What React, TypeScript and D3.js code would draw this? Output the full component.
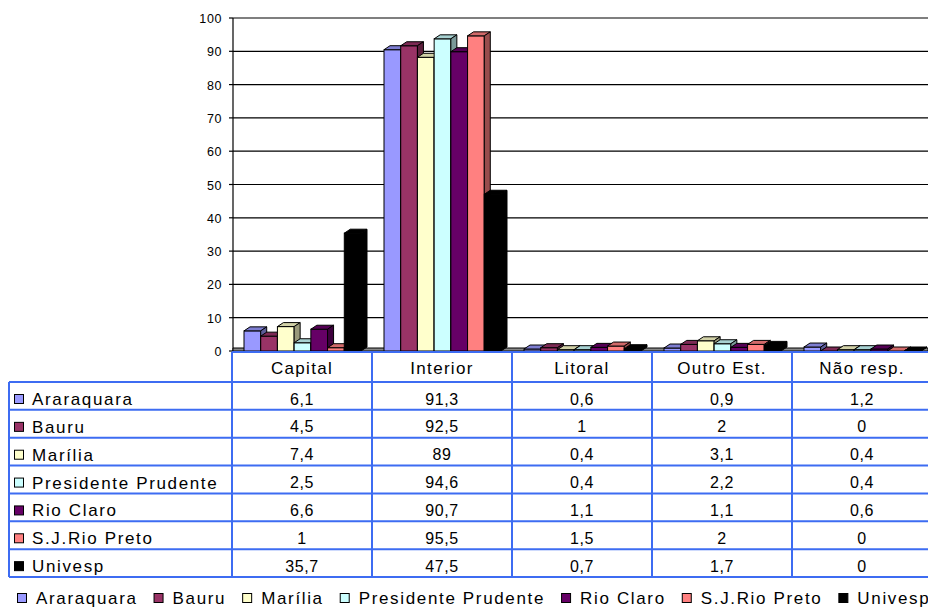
import React from "react";
import * as d3 from "d3";

const categories = ["Capital", "Interior", "Litoral", "Outro Est.", "Não resp."];
const series = ["Araraquara", "Bauru", "Marília", "Presidente Prudente", "Rio Claro", "S.J.Rio Preto", "Univesp"];
const araraquara = [6.1, 91.3, 0.6, 0.9, 1.2];
const bauru = [4.5, 92.5, 1, 2, 0];
const marilia = [7.4, 89, 0.4, 3.1, 0.4];
const presPrudente = [2.5, 94.6, 0.4, 2.2, 0.4];
const rioClaro = [6.6, 90.7, 1.1, 1.1, 0.6];
const sjRioPreto = [1, 95.5, 1.5, 2, 0];
const univesp = [35.7, 47.5, 0.7, 1.7, 0];
const seriesValues = [araraquara, bauru, marilia, presPrudente, rioClaro, sjRioPreto, univesp];
const colors = ["#9999FF", "#993366", "#FFFFCC", "#CCFFFF", "#660066", "#FF8080", "#000000"];
const yTicks = [0, 10, 20, 30, 40, 50, 60, 70, 80, 90, 100];

const W = 928, H = 607;
const FONT = "'Liberation Sans', Arial, sans-serif";
const BORDER = "#3d6cf2";

const fmt = (v: number) => String(v).replace(".", ",");

function textWidth(s: string, size: number, ls: number) {
  const c = document.createElement("canvas").getContext("2d");
  if (!c) return s.length * size * 0.55 + s.length * ls;
  c.font = `${size}px ${FONT}`;
  return c.measureText(s).width + s.length * ls;
}

export default function App() {
  const plotLeft = 232, plotRight = 932;
  const x = d3.scaleBand<string>().domain(categories).range([plotLeft, plotRight]).padding(0);
  const xs = d3.scaleBand<string>().domain(series).range([12, 129]).padding(0);
  const yFront = d3.scaleLinear().domain([0, 100]).range([351, 21]);
  const yGrid = d3.scaleLinear().domain([0, 100]).range([351, 18]);
  const dx = 6, dy = 4;
  const base = yFront(0);

  const tableTop = 352, headerH = 30;
  const rows = d3.scaleBand<string>().domain(series).range([tableTop + headerH, 577]).padding(0);
  const tableLeft = 9;

  const labSize = 17, labLs = 1.65;
  // legend layout
  let lx = 17;
  const legendItems = series.map((s, i) => {
    const item = { s, i, x: lx };
    lx += 19 + textWidth(s, labSize, labLs) + 16;
    return item;
  });

  const shade = (c: string, k: number) => {
    const col = d3.rgb(c);
    return d3.rgb(col.r * k, col.g * k, col.b * k).toString();
  };

  return (
    <svg width={W} height={H} style={{ position: "absolute", left: 0, top: 0, background: "#fff" }} fontFamily={FONT}>
      {/* gridlines */}
      {yTicks.map((t) => (
        <g key={"g" + t}>
          <line x1={plotLeft + 1} x2={W} y1={yGrid(t)} y2={yGrid(t)} stroke="#000" strokeWidth={1.2} />
          <line x1={plotLeft - 3} x2={plotLeft + 1} y1={yGrid(t)} y2={yGrid(t)} stroke="#000" strokeWidth={1.2} />
          <text x={222} y={yGrid(t) + 5} textAnchor="end" fontSize={12.5} letterSpacing={0.6} fill="#000">{t}</text>
        </g>
      ))}
      <line x1={plotLeft + 1} x2={plotLeft + 1} y1={yGrid(100)} y2={base} stroke="#000" strokeWidth={1.2} />
      {/* floor */}
      <polygon
        points={`${plotLeft + 1},${base} ${W},${base} ${W},${base - 3} ${plotLeft + 1},${base - 3}`}
        fill="#888" stroke="#000" strokeWidth={1}
      />
      {/* bars */}
      {categories.map((c, ci) => (
        <g key={"c" + c}>
          {series.map((s, si) => {
            const v = seriesValues[si][ci];
            const x0 = (x(c) as number) + (xs(s) as number);
            const w = xs.bandwidth();
            const yt = yFront(v);
            const col = colors[si];
            return (
              <g key={s}>
                <rect x={x0} y={yt} width={w} height={base - yt} fill={col} stroke="#000" strokeWidth={1} />
                <polygon
                  points={`${x0},${yt} ${x0 + dx},${yt - dy} ${x0 + w + dx},${yt - dy} ${x0 + w},${yt}`}
                  fill={shade(col, 0.82)} stroke="#000" strokeWidth={1} strokeLinejoin="round"
                />
                <polygon
                  points={`${x0 + w},${yt} ${x0 + w + dx},${yt - dy} ${x0 + w + dx},${base - dy} ${x0 + w},${base}`}
                  fill={shade(col, 0.6)} stroke="#000" strokeWidth={1} strokeLinejoin="round"
                />
              </g>
            );
          })}
        </g>
      ))}
      {/* table */}
      <g>
        <line x1={plotLeft} x2={W} y1={tableTop} y2={tableTop} stroke={BORDER} strokeWidth={2} />
        {categories.map((c) => (
          <g key={"h" + c}>
            <line x1={x(c)} x2={x(c)} y1={tableTop} y2={577} stroke={BORDER} strokeWidth={2} />
            <text x={(x(c) as number) + x.bandwidth() / 2} y={tableTop + 22} textAnchor="middle" fontSize={labSize} letterSpacing={1.3} fill="#000">{c}</text>
          </g>
        ))}
        <line x1={tableLeft} x2={tableLeft} y1={rows(series[0])} y2={577} stroke={BORDER} strokeWidth={2} />
        {series.map((s, si) => {
          const ry = rows(s) as number;
          return (
            <g key={"r" + s}>
              <line x1={tableLeft} x2={W} y1={ry} y2={ry} stroke={BORDER} strokeWidth={2} />
              <rect x={14.5} y={ry + 12.5} width={9} height={9} fill={colors[si]} stroke="#000" strokeWidth={1} />
              <text x={32} y={ry + 23} fontSize={labSize} letterSpacing={labLs} fill="#000">{s}</text>
              {categories.map((c, ci) => (
                <text key={c} x={(x(c) as number) + x.bandwidth() / 2} y={ry + 22.5} textAnchor="middle" fontSize={16} letterSpacing={0.6} fill="#000">
                  {fmt(seriesValues[si][ci])}
                </text>
              ))}
            </g>
          );
        })}
        <line x1={tableLeft} x2={W} y1={577} y2={577} stroke={BORDER} strokeWidth={2} />
      </g>
      {/* legend */}
      {legendItems.map((it) => (
        <g key={"l" + it.s}>
          <rect x={it.x + 0.5} y={593.5} width={9} height={9} fill={colors[it.i]} stroke="#000" strokeWidth={1} />
          <text x={it.x + 19} y={604} fontSize={labSize} letterSpacing={labLs} fill="#000">{it.s}</text>
        </g>
      ))}
    </svg>
  );
}
